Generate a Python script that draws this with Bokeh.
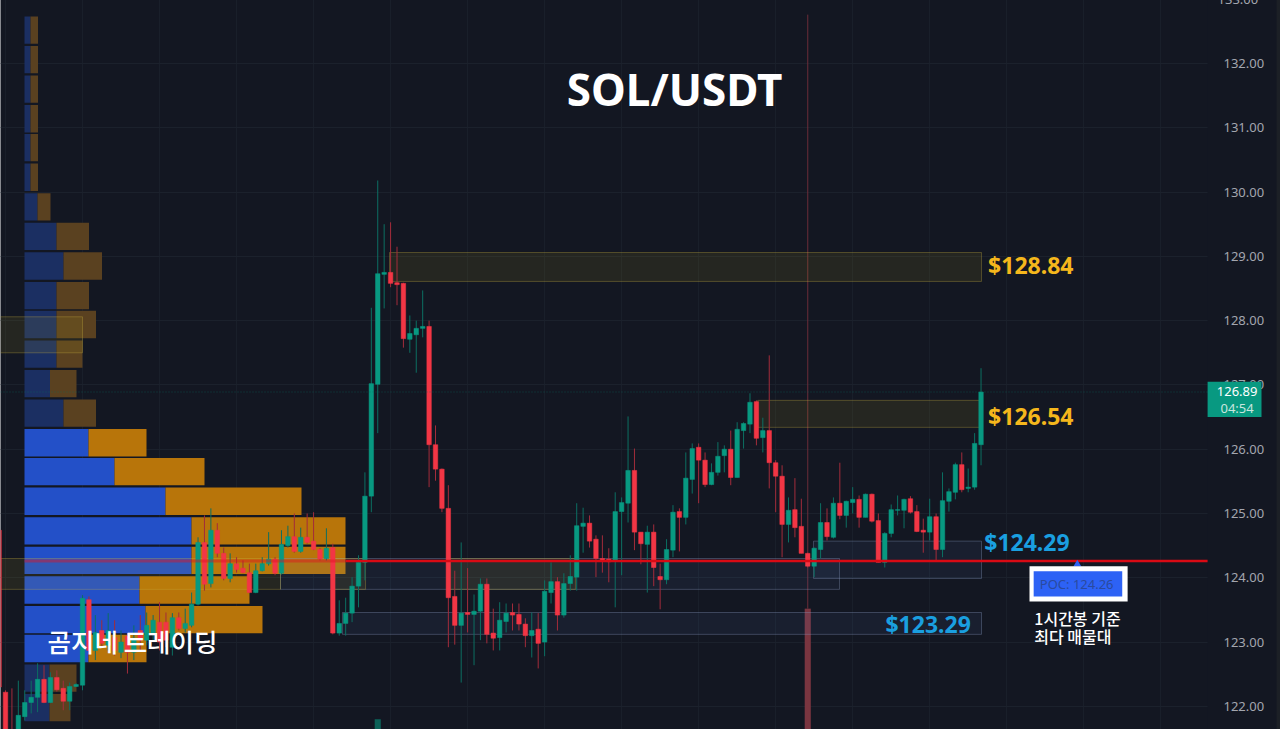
import numpy as np

from bokeh.embed import file_html
from bokeh.models import BoxAnnotation, FixedTicker, Label, NumeralTickFormatter, Range1d
from bokeh.plotting import figure
from bokeh.resources import INLINE

# 1h candles
opens = [124.74,122.22,121.63,121.39,121.84,122.06,122.14,122.42,122.06,122.45,122.28,122.08,122.31,122.33,123.66,122.87,123.18,122.95,123.07,122.84,
         123.09,122.84,123.18,123.03,123.14,123.31,123.31,122.92,123.38,123.21,123.26,123.59,124.55,123.91,124.74,124.38,123.99,124.22,124.15,124.08,
         123.77,124.11,124.22,124.29,124.07,124.50,124.64,124.41,124.63,124.57,124.44,124.30,124.47,123.14,123.29,123.45,123.87,124.24,125.27,127.01,
         128.72,128.75,128.59,128.58,127.71,127.78,127.88,127.91,126.07,125.69,125.08,123.71,123.26,123.46,123.43,123.48,123.90,123.14,123.07,123.32,
         123.46,123.43,123.28,123.10,123.20,123.00,123.77,123.94,123.42,123.91,124.01,124.80,124.85,124.60,124.30,124.29,124.27,125.03,125.16,125.67,
         124.71,124.52,124.71,124.02,123.97,124.43,125.03,124.94,125.53,126.03,125.83,125.45,125.64,125.90,126.00,125.56,126.29,126.39,126.74,126.18,
         126.29,125.79,125.58,124.83,125.06,124.80,124.38,124.18,124.44,124.86,124.63,125.16,124.97,125.17,125.22,124.94,125.30,124.89,124.24,124.69,
         125.05,125.05,125.23,125.03,124.74,124.71,124.95,124.44,125.19,125.33,125.76,125.39,125.41,126.07]
highs = [124.89,122.25,122.28,122.40,122.25,122.40,122.67,122.64,122.53,122.56,122.40,122.37,122.36,123.73,123.71,123.42,123.34,123.45,123.34,123.18,
         123.14,123.26,123.42,123.46,123.42,123.62,123.46,123.45,123.46,123.52,123.77,124.63,124.97,125.08,124.85,124.47,124.38,124.32,124.27,124.22,
         124.22,124.32,124.71,124.32,124.74,124.81,125.00,124.78,125.00,125.02,124.46,124.77,124.53,123.65,123.69,124.01,124.35,125.64,128.20,130.18,
         129.50,129.53,129.15,128.59,128.08,128.00,128.47,128.00,126.37,125.70,125.44,124.11,124.55,124.15,123.74,123.99,123.99,123.52,123.62,123.60,
         123.60,123.60,123.37,123.46,123.45,123.96,124.24,124.01,124.07,124.35,125.16,125.09,124.97,124.66,124.66,124.46,125.33,125.25,126.51,126.01,
         124.71,124.81,124.83,124.22,124.60,125.13,125.08,125.95,126.09,126.09,125.95,125.78,126.11,126.06,126.29,126.42,126.42,126.87,126.76,126.49,
         127.46,125.83,125.75,125.25,125.55,125.23,124.39,124.47,125.16,125.08,125.25,125.79,125.20,125.41,125.28,125.31,125.31,125.00,124.71,125.14,
         125.28,125.23,125.27,125.13,124.92,125.23,125.00,125.64,125.39,125.79,125.95,125.70,126.25,127.26]
lows = [122.25,121.39,121.39,121.30,121.78,121.89,121.91,122.05,122.05,122.23,121.94,121.94,122.30,122.25,122.79,122.72,122.92,122.87,122.79,122.75,
        122.51,122.72,122.87,122.95,123.03,122.87,122.92,122.79,123.18,123.15,123.23,123.57,123.80,123.85,124.32,123.96,123.93,124.08,124.07,123.76,
        123.76,124.10,124.19,124.04,124.05,124.47,124.39,124.39,124.53,124.43,124.27,124.27,123.12,123.10,123.10,123.31,123.54,123.96,125.02,126.25,
        128.19,128.52,128.24,127.58,127.50,127.19,127.74,125.41,125.51,125.02,122.92,122.96,122.37,123.15,122.64,123.03,122.98,122.87,122.87,123.15,
        123.18,123.18,122.92,122.76,122.59,122.78,123.60,123.18,123.38,123.80,123.80,124.39,124.47,124.01,124.08,123.93,123.54,124.04,124.86,124.43,
        124.21,123.77,123.87,123.51,123.90,124.32,124.41,124.83,125.31,125.16,125.41,125.44,125.59,125.64,125.44,125.56,126.01,126.25,126.06,125.95,
        125.39,125.02,124.32,124.55,124.63,124.38,124.16,124.01,124.30,124.58,124.61,124.91,124.78,125.00,124.78,124.94,124.86,124.24,124.16,124.63,
        124.97,124.77,125.00,124.71,124.39,124.58,124.27,124.32,125.03,125.22,125.33,125.33,125.37,125.75]
closes = [122.30,121.47,121.53,121.86,122.06,122.14,122.42,122.06,122.45,122.26,122.08,122.31,122.34,123.68,122.87,123.15,122.98,123.18,122.87,123.00,
          122.84,123.06,123.03,123.26,123.34,123.00,123.03,123.38,123.21,123.29,123.59,124.55,123.90,124.74,124.38,123.99,124.22,124.13,124.08,123.77,
          124.11,124.22,124.29,124.07,124.52,124.64,124.41,124.63,124.55,124.44,124.29,124.46,123.14,123.29,123.45,123.87,124.24,125.27,127.02,128.73,
          128.75,128.58,128.56,127.72,127.80,127.88,127.91,126.07,125.69,125.08,123.69,123.26,123.45,123.43,123.48,123.90,123.12,123.06,123.34,123.45,
          123.42,123.28,123.10,123.18,122.98,123.79,123.94,123.42,123.91,124.02,124.81,124.85,124.57,124.30,124.27,124.25,125.03,125.17,125.67,124.71,
          124.53,124.71,124.16,123.97,124.44,125.02,124.94,125.55,126.01,125.83,125.45,125.64,125.89,126.00,125.56,126.31,126.40,126.73,126.17,126.29,
          125.79,125.58,124.83,125.05,124.78,124.38,124.18,124.46,124.86,124.64,125.16,124.97,125.19,125.22,124.94,125.30,124.88,124.24,124.69,125.06,
          125.06,125.22,125.02,124.72,124.71,124.95,124.44,125.20,125.34,125.76,125.37,125.41,126.09,126.89]

# volume profile, top row first
row_price = [132.52,132.06,131.60,131.14,130.69,130.23,129.77,129.31,128.85,128.39,127.94,127.48,
             127.02,126.56,126.10,125.65,125.19,124.73,124.27,123.81,123.35,122.90,122.44,121.98]
buy_vol = [6,6,6,6,6,6,13,32,39,32,32,32,25.5,39,64,90,141,167,167,115,121,64,25,25]
sell_vol = [7.5,7.5,7.5,7.5,7.5,7.5,13,32.5,38.5,32.5,39.5,26,26.5,32.5,58,90,136,154,154,110,117,58,27,21]
in_value_area = [False]*14 + [True]*8 + [False]*2

# zones: left candle, right candle, top price, bottom price
yellow_zones = [(60.83,153.07,129.06,128.61),(118.2,153.07,126.76,126.34),(-0.5,13.0,128.06,127.5),
                (-0.5,43.85,124.3,123.82),(52.1,57.1,124.3,123.82),(69.9,89.8,124.3,123.82)]
blue_zones = [(43.85,130.95,124.3,123.82),(126.9,153.07,124.57,123.99),(53.5,153.07,123.46,123.12)]

poc_price = 124.26
last_price = 126.89
price_ticks = [122,123,124,125,126,127,128,129,130,131,132]
time_grid = list(range(1,182,12))

BG = "#131722"
UP, DOWN = "#089981", "#f23645"
UP_WICK, DOWN_WICK = "#0c6f62", "#a32c3b"
PANE_END = 188.3
RIGHT_END = 199.66

# one px taller and pulled up: the top row of the page shows a light hairline otherwise
p = figure(width=1280, height=730, output_backend="svg", toolbar_location=None,
           x_range=Range1d(0.22, RIGHT_END), y_range=Range1d(121.64, 132.9955),
           y_axis_location="right", x_axis_location=None,
           background_fill_color=BG, border_fill_color=BG, outline_line_color=None,
           min_border_left=0, min_border_right=0, min_border_top=0, min_border_bottom=0)
p.margin = (-1, 0, 0, 0)
p.extra_x_ranges = {"vol": Range1d(-24, 1256)}

# labels pulled back over the price column, frame runs to the window edge
p.yaxis.ticker = FixedTicker(ticks=price_ticks)
p.yaxis.formatter = NumeralTickFormatter(format="0.00")
p.yaxis.axis_line_color = None
p.yaxis.major_tick_line_color = None
p.yaxis.minor_tick_line_color = None
p.yaxis.major_label_standoff = -63
p.yaxis.major_label_text_color = "#a3a6af"
p.yaxis.major_label_text_font = "Noto Sans"
p.yaxis.major_label_text_font_size = "13px"

p.xgrid.ticker = FixedTicker(ticks=time_grid)
p.ygrid.ticker = FixedTicker(ticks=price_ticks)
p.xgrid.grid_line_color = "#191f2a"
p.ygrid.grid_line_color = "#1b212c"

# price column hides the grid
p.quad(left=PANE_END, right=RIGHT_END, top=133.2, bottom=121, color=BG, line_width=0)
p.quad(left=199.04, right=RIGHT_END, top=133.2, bottom=121, color="#1c2026", line_width=0)

# marker behind the candles
p.segment([126], [132.76], [126], [123.52], color="#6b2c38", line_width=1)
p.vbar([126], width=0.95, top=[123.52], bottom=[121.5], color="#7a3540", line_width=0)
p.vbar([59], width=0.95, top=[121.8], bottom=[121.4], color="#0c6258", line_width=0)

# volume profile
buy_colors = ["#2350c8" if v else "#1b2f62" for v in in_value_area]
sell_colors = ["#b8750a" if v else "#5a4120" for v in in_value_area]
p.hbar(y=row_price, left=0, right=buy_vol, height=0.425, color=buy_colors, line_width=0, x_range_name="vol")
p.hbar(y=row_price, left=buy_vol, right=np.array(buy_vol) + np.array(sell_vol), height=0.425,
       color=sell_colors, line_width=0, x_range_name="vol")

# zones
for left, right, top, bottom in blue_zones:
    p.quad(left=left, right=right, top=top, bottom=bottom, fill_color="#5a7cc0", fill_alpha=0.09,
           line_color="#8a9cc0", line_alpha=0.35, line_width=1)
for left, right, top, bottom in yellow_zones:
    p.quad(left=left, right=right, top=top, bottom=bottom, fill_color="#c8b020", fill_alpha=0.1,
           line_color="#c8b040", line_alpha=0.32, line_width=1)

# candles
x = np.arange(len(opens))
o, h, l, c = np.array(opens), np.array(highs), np.array(lows), np.array(closes)
up = c >= o
p.segment(x[up], h[up], x[up], l[up], color=UP_WICK, line_width=1)
p.segment(x[~up], h[~up], x[~up], l[~up], color=DOWN_WICK, line_width=1)
p.vbar(x[up], width=0.7, top=c[up], bottom=o[up], fill_color=UP, line_color=UP, line_width=0.5)
p.vbar(x[~up], width=0.7, top=o[~up], bottom=c[~up], fill_color=DOWN, line_color=DOWN, line_width=0.5)

# last price and POC
p.segment([0.22], [last_price], [PANE_END], [last_price], color="#0d6f60", line_alpha=0.55, line_width=1, line_dash="1 2")
p.segment([3.96], [poc_price], [54], [poc_price], color="#e3101e", line_alpha=0.45, line_width=3)
p.segment([54], [poc_price], [PANE_END], [poc_price], color="#d90a14", line_width=2.5)


def box(left, right, top, bottom, color):
    p.add_layout(BoxAnnotation(left=left, right=right, top=top, bottom=bottom, fill_color=color,
                               fill_alpha=1, line_width=0, line_alpha=0))


def label(x, y, text, size, color, font="Noto Sans", style="normal", align="left"):
    p.add_layout(Label(x=x, y=y, text=text, text_font=font, text_font_size=size, text_color=color,
                       text_font_style=style, text_align=align, text_baseline="middle"))


# POC tag
p.scatter([168], [124.21], marker="triangle", size=8, color="#2d62f5", line_width=0)
box(160.55, 175.84, 124.18, 123.63, "#ffffff")
box(161.2, 175.0, 124.10, 123.71, "#2d62f5")
label(167.9, 123.9, "POC: 124.26", "13px", "#2a4a9e", align="center")

# price tag on the axis
label(189.85, 133.0, "133.00", "13px", "#a3a6af")
box(PANE_END, 196.7, 127.05, 126.5, UP)
label(192.9, 126.89, "126.89", "13px", "#ffffff", align="center")
label(192.9, 126.64, "04:54", "13px", "#c8e6df", align="center")

label(105.25, 131.61, "SOL/USDT", "44px", "#ffffff", style="bold", align="center")
label(154.1, 128.86, "$128.84", "23px", "#f5b71c", style="bold")
label(154.1, 126.51, "$126.54", "23px", "#f5b71c", style="bold")
label(153.5, 124.55, "$124.29", "23px", "#1a9fe0", style="bold")
label(138.1, 123.28, "$123.29", "23px", "#1a9fe0", style="bold")
label(7.55, 123.03, "곰지네 트레이딩", "25.5px", "#ffffff", font="Noto Sans CJK KR Medium")
label(161.3, 123.38, "1시간봉 기준", "16px", "#ffffff", font="Noto Sans CJK KR Medium")
label(161.3, 123.09, "최다 매물대", "16px", "#ffffff", font="Noto Sans CJK KR Medium")

open("out.html", "w").write(file_html(p, INLINE))
